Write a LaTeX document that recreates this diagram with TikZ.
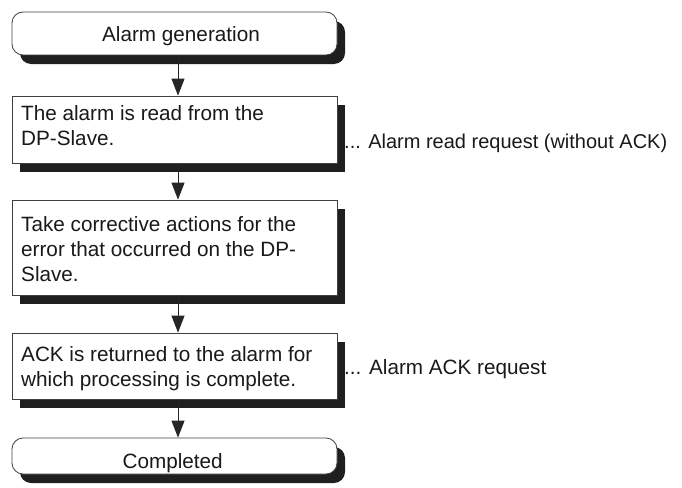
\documentclass[tikz,border=0pt]{standalone}
\usepackage{fontspec}
\setmainfont{Liberation Sans}
\usetikzlibrary{arrows.meta,shadows}
\begin{document}
\begin{tikzpicture}[x=1pt,y=-1pt,
  sh/.style={drop shadow={shadow xshift=8pt,shadow yshift=-9pt,fill=black!88,opacity=1}},
  txt/.style={font=\fontsize{20.7}{25}\selectfont, text=black!90, inner sep=0pt},
  proc/.style={draw=black!75,line width=0.8pt,fill=white,sh,minimum width=325pt,inner sep=0pt},
  term/.style={draw=black!75,line width=0.8pt,fill=white,rounded corners=11pt,sh,
    minimum width=325pt,inner sep=0pt},
  ptxt/.style={txt,align=left,anchor=base west},
  arr/.style={line width=1pt,draw=black!85,-{Triangle[width=13pt,length=17pt]}},
  lbl/.style={txt,anchor=base west}]
\useasboundingbox (0,0) rectangle (682,487);
\node[term,minimum height=43pt] (t1) at (174.5,33.5) {};
\node[txt,anchor=base] (t1txt) at (181,41.7) {Alarm generation};
\node[proc,minimum height=67pt] (b2) at (174.5,129.5) {};
\node[ptxt] (b2txt) at (21,145) {The alarm is read from the\\DP-Slave.};
\node[proc,minimum height=95pt] (b3) at (174.5,247.5) {};
\node[ptxt] (b3txt) at (21,281.7) {Take corrective actions for the\\error that occurred on the DP-\\Slave.};
\node[proc,minimum height=66pt] (b4) at (174.5,366) {};
\node[ptxt] (b4txt) at (21,386.7) {ACK is returned to the alarm for\\which processing is complete.};
\node[term,minimum height=36pt] (t2) at (174.5,456) {};
\node[txt,anchor=base] (t2txt) at (172.7,468) {Completed};
\node[lbl,font=\fontsize{20}{25}\selectfont] (l1) at (344,148) {... Alarm read request (without ACK)};
\node[lbl] (l2) at (344,374) {... Alarm ACK request};
\draw[arr] ([xshift=3.5pt]t1.south) -- ([xshift=3.5pt]b2.north);
\draw[arr] ([xshift=3.5pt]b2.south) -- ([xshift=3.5pt]b3.north);
\draw[arr] ([xshift=3.5pt]b3.south) -- ([xshift=3.5pt]b4.north);
\draw[arr] ([xshift=3.5pt]b4.south) -- ([xshift=3.5pt]t2.north);
\end{tikzpicture}
\end{document}
